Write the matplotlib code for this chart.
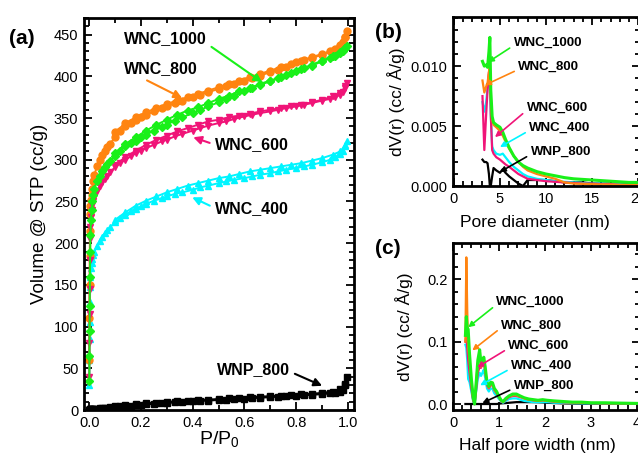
import matplotlib
matplotlib.use('Agg')
import matplotlib.pyplot as plt
from matplotlib.ticker import MultipleLocator

plt.rcParams['font.family'] = ['Liberation Sans', 'DejaVu Sans']
plt.rcParams['mathtext.fontset'] = 'custom'
plt.rcParams['mathtext.rm'] = 'Liberation Sans'

# ---- (a) N2 isotherms ----
p_ads = [0.0005, 0.001, 0.0015, 0.002, 0.003, 0.004, 0.005, 0.007, 0.009, 0.012,
         0.016, 0.02, 0.03, 0.04, 0.05, 0.06, 0.07, 0.08, 0.1, 0.12,
         0.14, 0.16, 0.18, 0.2, 0.22, 0.25, 0.28, 0.3, 0.33, 0.36,
         0.4, 0.43, 0.46, 0.5, 0.53, 0.56, 0.6, 0.63, 0.66, 0.7,
         0.73, 0.76, 0.8, 0.83, 0.86, 0.9, 0.93, 0.95, 0.97, 0.98,
         0.99, 0.995]
p_des = [0.99, 0.97, 0.94, 0.9, 0.86, 0.82, 0.78, 0.74, 0.7, 0.66, 0.62, 0.58,
         0.54, 0.5, 0.46, 0.42, 0.38, 0.34, 0.3, 0.26, 0.22, 0.18, 0.14, 0.1]

v800_ads = [60, 110, 150, 185, 215, 235, 245, 252, 258, 265,
            274, 282, 292, 300, 306, 311, 315, 319, 327, 334,
            340, 344, 348, 351, 354, 358, 362, 364, 368, 371,
            375, 378, 381, 385, 388, 391, 395, 398, 401, 405,
            408, 411, 417, 420, 422, 426, 430, 433, 437, 441,
            447, 455]
v800_des = [447, 438, 431, 427, 423, 419, 415, 411, 407, 403, 399, 395,
            391, 387, 383, 379, 375, 371, 367, 362, 357, 351, 344, 333]

v1000_ads = [35, 65, 95, 125, 160, 190, 210, 228, 240, 250,
             258, 265, 275, 281, 286, 291, 295, 298, 305, 311,
             316, 320, 323, 327, 330, 335, 339, 342, 347, 351,
             356, 360, 364, 369, 373, 377, 382, 386, 390, 394,
             398, 402, 406, 410, 413, 418, 422, 425, 428, 431,
             434, 436]
v1000_des = [434, 429, 424, 419, 414, 409, 404, 399, 395, 391, 386, 382,
             377, 373, 368, 363, 359, 354, 348, 342, 335, 327, 319, 308]

v600_ads = [40, 80, 115, 145, 180, 205, 220, 232, 240, 246,
            251, 255, 262, 268, 273, 277, 281, 285, 291, 296,
            300, 304, 308, 311, 314, 318, 322, 324, 328, 331,
            335, 338, 341, 344, 346, 349, 352, 354, 356, 358,
            360, 362, 364, 366, 368, 371, 373, 375, 378, 381,
            386, 392]
v600_des = [388, 380, 376, 372, 369, 366, 364, 362, 360, 358, 355, 353,
            351, 348, 346, 342, 338, 334, 329, 324, 318, 311, 303, 294]

v400_ads = [30, 60, 85, 105, 130, 148, 160, 170, 176, 181,
            186, 190, 197, 203, 208, 212, 216, 219, 225, 230,
            234, 238, 241, 244, 247, 251, 254, 256, 259, 261,
            264, 267, 269, 272, 274, 276, 278, 280, 282, 284,
            286, 288, 290, 292, 294, 297, 300, 303, 307, 311,
            316, 322]
v400_des = [318, 310, 306, 302, 299, 296, 294, 292, 290, 288, 286, 283,
            280, 278, 275, 272, 269, 265, 261, 256, 251, 245, 237, 228]

vP800_ads = [0.2, 0.3, 0.4, 0.5, 0.6, 0.7, 0.8, 0.9, 1.0, 1.1,
             1.2, 1.4, 1.7, 2.0, 2.3, 2.6, 2.9, 3.2, 3.8, 4.3,
             4.8, 5.3, 5.8, 6.3, 6.8, 7.4, 8.0, 8.4, 9.0, 9.6,
             10.3, 10.8, 11.3, 12.0, 12.5, 13.0, 13.7, 14.2, 14.7, 15.4,
             15.9, 16.4, 17.1, 17.6, 18.2, 19.0, 19.8, 20.6, 22.0, 24.5,
             30.0, 40.0]
vP800_des = [31, 25, 22, 20.5, 19.5, 18.8, 18.0, 17.3, 16.6, 16.0, 15.3, 14.6,
             13.9, 13.2, 12.5, 11.8, 11.1, 10.4, 9.7, 8.9, 8.1, 7.2, 6.3, 5.2]

# ---- (b) pore size distribution vs pore diameter ----
b_x = [3.1, 3.3, 3.5, 3.65, 3.8, 3.9, 4.0, 4.15, 4.3, 4.6,
       5.0, 5.3, 5.6, 6.0, 6.5, 7.0, 7.5, 8.0, 9.0, 10,
       11, 12, 13, 14, 15, 16, 17, 18, 19, 20]
b_1000 = [0.0104, 0.0100, 0.0101, 0.0099, 0.0112, 0.0124, 0.0080, 0.0058, 0.0053, 0.0051,
          0.0049, 0.0045, 0.0039, 0.0032, 0.0025, 0.0020, 0.0017, 0.0015, 0.0012, 0.0010,
          0.00085, 0.0007, 0.0006, 0.00055, 0.0005, 0.00045, 0.0004, 0.00035, 0.0003, 0.0003]
b_800 = [0.0088, 0.0078, 0.0083, 0.0086, 0.0095, 0.0100, 0.0075, 0.0055, 0.0051, 0.0049,
         0.0046, 0.0042, 0.0037, 0.0031, 0.0025, 0.0020, 0.0016, 0.0013, 0.0010, 0.0008,
         0.0006, 0.0003, 0.0002, 0.00018, 0.00015, 0.00013, 0.00012, 0.0001, 0.0001, 0.0001]
b_600 = [0.0075, 0.0030, 0.0060, 0.0080, 0.0095, 0.0098, 0.0060, 0.0030, 0.0027, 0.0024,
         0.0022, 0.0020, 0.0018, 0.0016, 0.0013, 0.0010, 0.0008, 0.0006, 0.0005, 0.0004,
         0.00035, 0.0003, 0.00025, 0.0002, 0.0002, 0.00015, 0.00015, 0.0001, 0.0001, 0.0001]
b_400 = [0.0070, 0.0062, 0.0070, 0.0082, 0.0093, 0.0096, 0.0060, 0.0033, 0.0030, 0.0027,
         0.0026, 0.0027, 0.0024, 0.0020, 0.0016, 0.0013, 0.0010, 0.0008, 0.0006, 0.0005,
         0.0004, 0.00035, 0.0003, 0.00025, 0.0002, 0.0002, 0.00015, 0.00015, 0.0001, 0.0001]
b_P800 = [0.0022, 0.0020, 0.0020, 0.0019, 0.0010, 0.0, 0.0, 0.0008, 0.0015, 0.0013,
          0.0011, 0.0014, 0.0011, 0.0008, 0.0005, 0.0002, 0.0, 0.0005, 0.0005, 0.0005,
          0.0004, 0.0003, 0.0003, 0.0003, 0.0002, 0.0002, 0.0002, 0.0002, 0.0002, 0.0002]

# ---- (c) pore size distribution vs half pore width ----
c_x = [0.27, 0.29, 0.31, 0.33, 0.36, 0.40, 0.44, 0.47, 0.50, 0.54,
       0.58, 0.61, 0.64, 0.67, 0.70, 0.74, 0.78, 0.82, 0.86, 0.90,
       0.95, 1.00, 1.05, 1.09, 1.15, 1.22, 1.30, 1.38, 1.46, 1.55,
       1.65, 1.75, 1.85, 1.95, 2.05, 2.2, 2.4, 2.6, 2.8, 3.0,
       3.3, 3.6, 4.0]
c_1000 = [0.11, 0.14, 0.12, 0.12, 0.08, 0.04, 0.01, 0.0, 0.03, 0.07,
          0.087, 0.065, 0.068, 0.075, 0.06, 0.035, 0.028, 0.035, 0.034, 0.025,
          0.02, 0.012, 0.006, 0.004, 0.009, 0.013, 0.016, 0.016, 0.013, 0.010,
          0.008, 0.007, 0.006, 0.007, 0.006, 0.005, 0.004, 0.003, 0.003, 0.002,
          0.002, 0.0015, 0.001]
c_800 = [0.10, 0.235, 0.15, 0.09, 0.07, 0.035, 0.008, 0.0, 0.03, 0.065,
         0.082, 0.06, 0.062, 0.07, 0.055, 0.032, 0.026, 0.032, 0.031, 0.023,
         0.018, 0.011, 0.005, 0.003, 0.008, 0.012, 0.014, 0.014, 0.012, 0.009,
         0.007, 0.006, 0.005, 0.006, 0.005, 0.004, 0.003, 0.0025, 0.002, 0.0015,
         0.0012, 0.001, 0.0008]
c_600 = [0.10, 0.11, 0.09, 0.07, 0.05, 0.025, 0.005, 0.0, 0.02, 0.05,
         0.06, 0.058, 0.065, 0.068, 0.052, 0.03, 0.025, 0.03, 0.03, 0.022,
         0.017, 0.01, 0.005, 0.003, 0.007, 0.011, 0.013, 0.013, 0.011, 0.009,
         0.007, 0.006, 0.005, 0.006, 0.005, 0.004, 0.003, 0.0025, 0.002, 0.0015,
         0.0012, 0.001, 0.0008]
c_400 = [0.095, 0.09, 0.07, 0.04, 0.035, 0.02, 0.004, 0.0, 0.018, 0.04,
         0.05, 0.045, 0.05, 0.055, 0.042, 0.025, 0.02, 0.025, 0.024, 0.017,
         0.013, 0.008, 0.004, 0.002, 0.005, 0.008, 0.009, 0.009, 0.007, 0.005,
         0.004, 0.003, 0.003, 0.003, 0.003, 0.002, 0.002, 0.0015, 0.0012, 0.001,
         0.0008, 0.0006, 0.0005]
c_P800 = [0.0, 0.0, 0.0, 0.0, 0.0, 0.0, 0.0, 0.0, 0.0, 0.0,
          0.0, 0.0, 0.0, 0.0, 0.0, 0.0, 0.0, 0.0, 0.0, 0.0,
          0.0, 0.0005, 0.001, 0.0012, 0.0015, 0.002, 0.0025, 0.003, 0.003, 0.003,
          0.003, 0.003, 0.0028, 0.0025, 0.002, 0.0015, 0.001, 0.0008, 0.0006, 0.0005,
          0.0005, 0.0004, 0.0004]

names = ['WNC_1000', 'WNC_800', 'WNC_600', 'WNC_400', 'WNP_800']
colors = {'WNC_1000': '#19F019', 'WNC_800': '#FF8410', 'WNC_600': '#F01478',
          'WNC_400': '#00F5FF', 'WNP_800': '#000000'}
markers = {'WNC_1000': 'D', 'WNC_800': 'o', 'WNC_600': 'v', 'WNC_400': '^', 'WNP_800': 's'}

fig = plt.figure(figsize=(6.38, 4.62), dpi=100)
W, H = 638.0, 462.0

def box(l, t, r, b):
    return [l / W, 1 - b / H, (r - l) / W, (b - t) / H]

ax = fig.add_axes(box(84, 18, 354, 410))
bx = fig.add_axes(box(453, 17, 640, 186))
cx = fig.add_axes(box(453, 243, 640, 410))


def style(a, xmaj, xmin, ymaj, ymin):
    a.xaxis.set_major_locator(MultipleLocator(xmaj))
    a.xaxis.set_minor_locator(MultipleLocator(xmin))
    a.yaxis.set_major_locator(MultipleLocator(ymaj))
    a.yaxis.set_minor_locator(MultipleLocator(ymin))
    a.tick_params(which='both', direction='in', top=True, right=True, labelsize=10.5, width=1.3)
    a.tick_params(which='major', length=6, pad=4)
    a.tick_params(which='minor', length=3.5)
    for s in a.spines.values():
        s.set_linewidth(2)


# (a)
iso = {
    'WNP_800': (vP800_ads, vP800_des),
    'WNC_400': (v400_ads, v400_des),
    'WNC_800': (v800_ads, v800_des),
    'WNC_600': (v600_ads, v600_des),
    'WNC_1000': (v1000_ads, v1000_des),
}
for n, (va, vd) in iso.items():
    ms = 4.3 if markers[n] == 'D' else 5
    ax.plot(p_ads, va, color=colors[n], marker=markers[n], ms=ms, lw=1.4, mec=colors[n])
    ax.plot(p_des, vd, color=colors[n], marker=markers[n], ms=ms, lw=1.4, mec=colors[n])
ax.set_xlim(-0.02, 1.023)
ax.set_ylim(0, 470)
style(ax, 0.2, 0.1, 50, 10)
ax.xaxis.set_major_formatter(plt.FuncFormatter(lambda v, p: '%.1f' % v))
ax.set_xlabel('P/P$_0$', fontsize=14, labelpad=0)
ax.set_ylabel('Volume @ STP (cc/g)', fontsize=13.5, labelpad=4)

lab_a = [('WNC_1000', 0.293, 445, 0.668, 393, (1, 0.2)),
         ('WNC_800', 0.278, 409, 0.359, 374, (0.2, 0)),
         ('WNC_600', 0.629, 318, 0.402, 327, (0, 0.5)),
         ('WNC_400', 0.629, 242, 0.398, 255, (0, 0.5)),
         ('WNP_800', 0.633, 48, 0.90, 29, (1, 0.4))]
for n, tx, ty, hx, hy, rp in lab_a:
    ax.annotate(n, xy=(hx, hy), xytext=(tx, ty), ha='center', va='center',
                fontsize=11.5, fontweight='bold',
                arrowprops=dict(arrowstyle='-|>', color=colors[n], lw=1.5,
                                mutation_scale=12, relpos=rp, shrinkA=2, shrinkB=0))

# (b)
pb = {'WNP_800': b_P800, 'WNC_400': b_400, 'WNC_600': b_600,
      'WNC_800': b_800, 'WNC_1000': b_1000}
for n, v in pb.items():
    bx.plot(b_x, v, color=colors[n], lw=2.2 if n == 'WNC_1000' else 1.6)
bx.set_xlim(-0.1, 20.2)
bx.set_ylim(0, 0.0141)
style(bx, 5, 1, 0.005, 0.001)
bx.yaxis.set_major_formatter(plt.FuncFormatter(lambda v, p: '%.3f' % v))
bx.set_xlabel('Pore diameter (nm)', fontsize=12.5, labelpad=0)
bx.xaxis.set_label_coords((535 - 453) / 187.0, -0.17)
bx.set_ylabel('dV(r) (cc/ Å/g)', fontsize=12.5, labelpad=4)

lab_b = [('WNC_1000', 10.2, 0.01192, 3.7, 0.01033),
         ('WNC_800', 10.3, 0.00992, 3.37, 0.00842),
         ('WNC_600', 11.2, 0.0065, 4.46, 0.00408),
         ('WNC_400', 11.5, 0.00483, 5.0, 0.00325),
         ('WNP_800', 11.6, 0.00283, 5.0, 0.00117)]
for n, tx, ty, hx, hy in lab_b:
    bx.annotate(n, xy=(hx, hy), xytext=(tx, ty), ha='center', va='center',
                fontsize=9.5, fontweight='bold',
                arrowprops=dict(arrowstyle='-|>', color=colors[n], lw=1.2,
                                mutation_scale=8, relpos=(0, 0.3), shrinkA=1, shrinkB=0))

# (c)
pc = {'WNP_800': c_P800, 'WNC_400': c_400, 'WNC_600': c_600,
      'WNC_800': c_800, 'WNC_1000': c_1000}
for n, v in pc.items():
    cx.plot(c_x, v, color=colors[n], lw=2.2 if n == 'WNC_1000' else 1.6)
cx.set_xlim(0, 4.07)
cx.set_ylim(-0.0096, 0.258)
style(cx, 1, 0.2, 0.1, 0.02)
cx.set_xlabel('Half pore width (nm)', fontsize=12.5, labelpad=0)
cx.xaxis.set_label_coords((537 - 453) / 187.0, -0.17)
cx.set_ylabel('dV(r) (cc/ Å/g)', fontsize=12.5, labelpad=10)

lab_c = [('WNC_1000', 1.69, 0.163, 0.33, 0.123),
         ('WNC_800', 1.71, 0.126, 0.42, 0.086),
         ('WNC_600', 1.87, 0.093, 0.53, 0.059),
         ('WNC_400', 1.93, 0.061, 0.59, 0.030),
         ('WNP_800', 1.98, 0.029, 0.64, 0.0016)]
for n, tx, ty, hx, hy in lab_c:
    cx.annotate(n, xy=(hx, hy), xytext=(tx, ty), ha='center', va='center',
                fontsize=9.5, fontweight='bold',
                arrowprops=dict(arrowstyle='-|>', color=colors[n], lw=1.2,
                                mutation_scale=8, relpos=(0, 0.3), shrinkA=1, shrinkB=0))

fig.text(22 / W, 1 - 38 / H, '(a)', fontsize=15, fontweight='bold', ha='center', va='center')
fig.text(388 / W, 1 - 32 / H, '(b)', fontsize=15, fontweight='bold', ha='center', va='center')
fig.text(388 / W, 1 - 248 / H, '(c)', fontsize=15, fontweight='bold', ha='center', va='center')

fig.savefig('out.png', dpi=100)
